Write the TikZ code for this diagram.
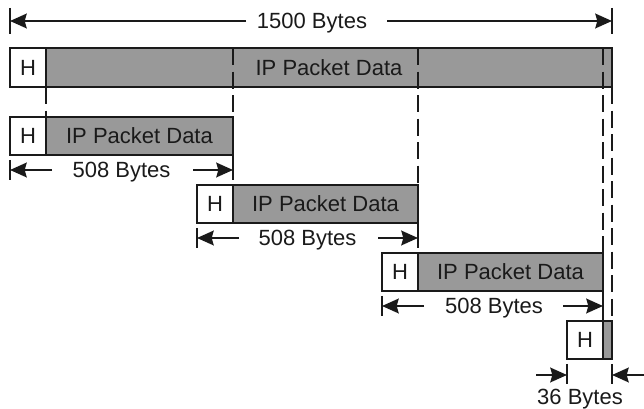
\documentclass[tikz,border=0pt]{standalone}
\usepackage{fontspec}
\setmainfont{Liberation Sans}
\usetikzlibrary{arrows.meta}
\definecolor{ink}{HTML}{1A1A1A}
\definecolor{payload}{HTML}{999999}
\begin{document}
\begin{tikzpicture}[x=0.75pt,y=-0.75pt,
  lbl/.style={font=\fontsize{16.5}{19}\selectfont, text=ink, inner sep=0pt},
  hdr/.style={draw=ink, fill=white, line width=1.1pt, minimum width=27pt,
    minimum height=28.5pt, inner sep=0pt, outer sep=0pt, anchor=north west, lbl},
  pay/.style={draw=ink, fill=payload, line width=1.1pt, minimum height=28.5pt,
    inner sep=0pt, outer sep=0pt, anchor=north west, lbl},
  guide/.style={draw=ink, line width=1.1pt, dash pattern=on 12.75pt off 4.9pt},
  tick/.style={draw=ink, line width=0.8pt},
  dim/.style={draw=ink, line width=1.7pt, -{Stealth[length=12.5pt,width=11pt,inset=1.5pt]}},
  size/.style={lbl, anchor=base}]
\useasboundingbox (0,0) rectangle (644,409);

% original datagram
\node[hdr, minimum height=29.25pt] (h1) at (10,48) {H};
\node[pay, minimum width=424.5pt, minimum height=29.25pt] (d1) at (h1.north east) {IP Packet Data};

% fragments
\node[hdr] (h2) at (10,117) {H};
\node[pay, minimum width=140.25pt] (d2) at (h2.north east) {IP Packet Data};
\node[hdr] (h3) at (197,185) {H};
\node[pay, minimum width=138.75pt] (d3) at (h3.north east) {IP Packet Data};
\node[hdr] (h4) at (382,253) {H};
\node[pay, minimum width=138.75pt] (d4) at (h4.north east) {IP Packet Data};
\node[hdr] (h5) at (567,321) {H};
\node[pay, minimum width=6.75pt] (d5) at (h5.north east) {};

% dashed guides from the datagram down to each fragment
\draw[guide] (h1.south east) -- (h2.north east);
\draw[guide] (233,48) -- (d2.north east);
\draw[guide] (418,48) -- (d3.north east);
\draw[guide] (603,48) -- (d4.north east);
\draw[guide] (d1.south east) -- (d5.north east);

% 1500 bytes
\draw[tick] (10,8) -- (10,34);
\draw[tick] (612,8) -- (612,34);
\node[size] (s1) at (312,29) {1500 Bytes};
\coordinate (a1l) at (246,21); \coordinate (t1l) at (10,21);
\coordinate (a1r) at (387,21); \coordinate (t1r) at (612,21);
\draw[dim] (a1l) -- (t1l);
\draw[dim] (a1r) -- (t1r);

% 508 bytes (first)
\draw[tick] (10,160) -- (10,180);
\draw[tick] (233,156) -- (233,180);
\node[size] (s2) at (121.5,178) {508 Bytes};
\coordinate (a2l) at (52,170); \coordinate (t2l) at (10,170);
\coordinate (a2r) at (193,170); \coordinate (t2r) at (233,170);
\draw[dim] (a2l) -- (t2l);
\draw[dim] (a2r) -- (t2r);

% 508 bytes (second)
\draw[tick] (197,228) -- (197,248);
\draw[tick] (418,224) -- (418,248);
\node[size] (s3) at (307.5,246) {508 Bytes};
\coordinate (a3l) at (239,238); \coordinate (t3l) at (197,238);
\coordinate (a3r) at (378,238); \coordinate (t3r) at (418,238);
\draw[dim] (a3l) -- (t3l);
\draw[dim] (a3r) -- (t3r);

% 508 bytes (third)
\draw[tick] (382,296) -- (382,316);
\draw[tick] (603,291) -- (603,321);
\node[size] (s4) at (494,314) {508 Bytes};
\coordinate (a4l) at (424,306); \coordinate (t4l) at (382,306);
\coordinate (a4r) at (563,306); \coordinate (t4r) at (603,306);
\draw[dim] (a4l) -- (t4l);
\draw[dim] (a4r) -- (t4r);

% 36 bytes
\draw[tick] (567,364) -- (567,384);
\draw[tick] (612,364) -- (612,384);
\node[size] (s5) at (580,405) {36 Bytes};
\coordinate (a5l) at (536,375); \coordinate (t5l) at (567,375);
\coordinate (a5r) at (644,375); \coordinate (t5r) at (612,375);
\draw[dim] (a5l) -- (t5l);
\draw[dim] (a5r) -- (t5r);
\end{tikzpicture}
\end{document}
